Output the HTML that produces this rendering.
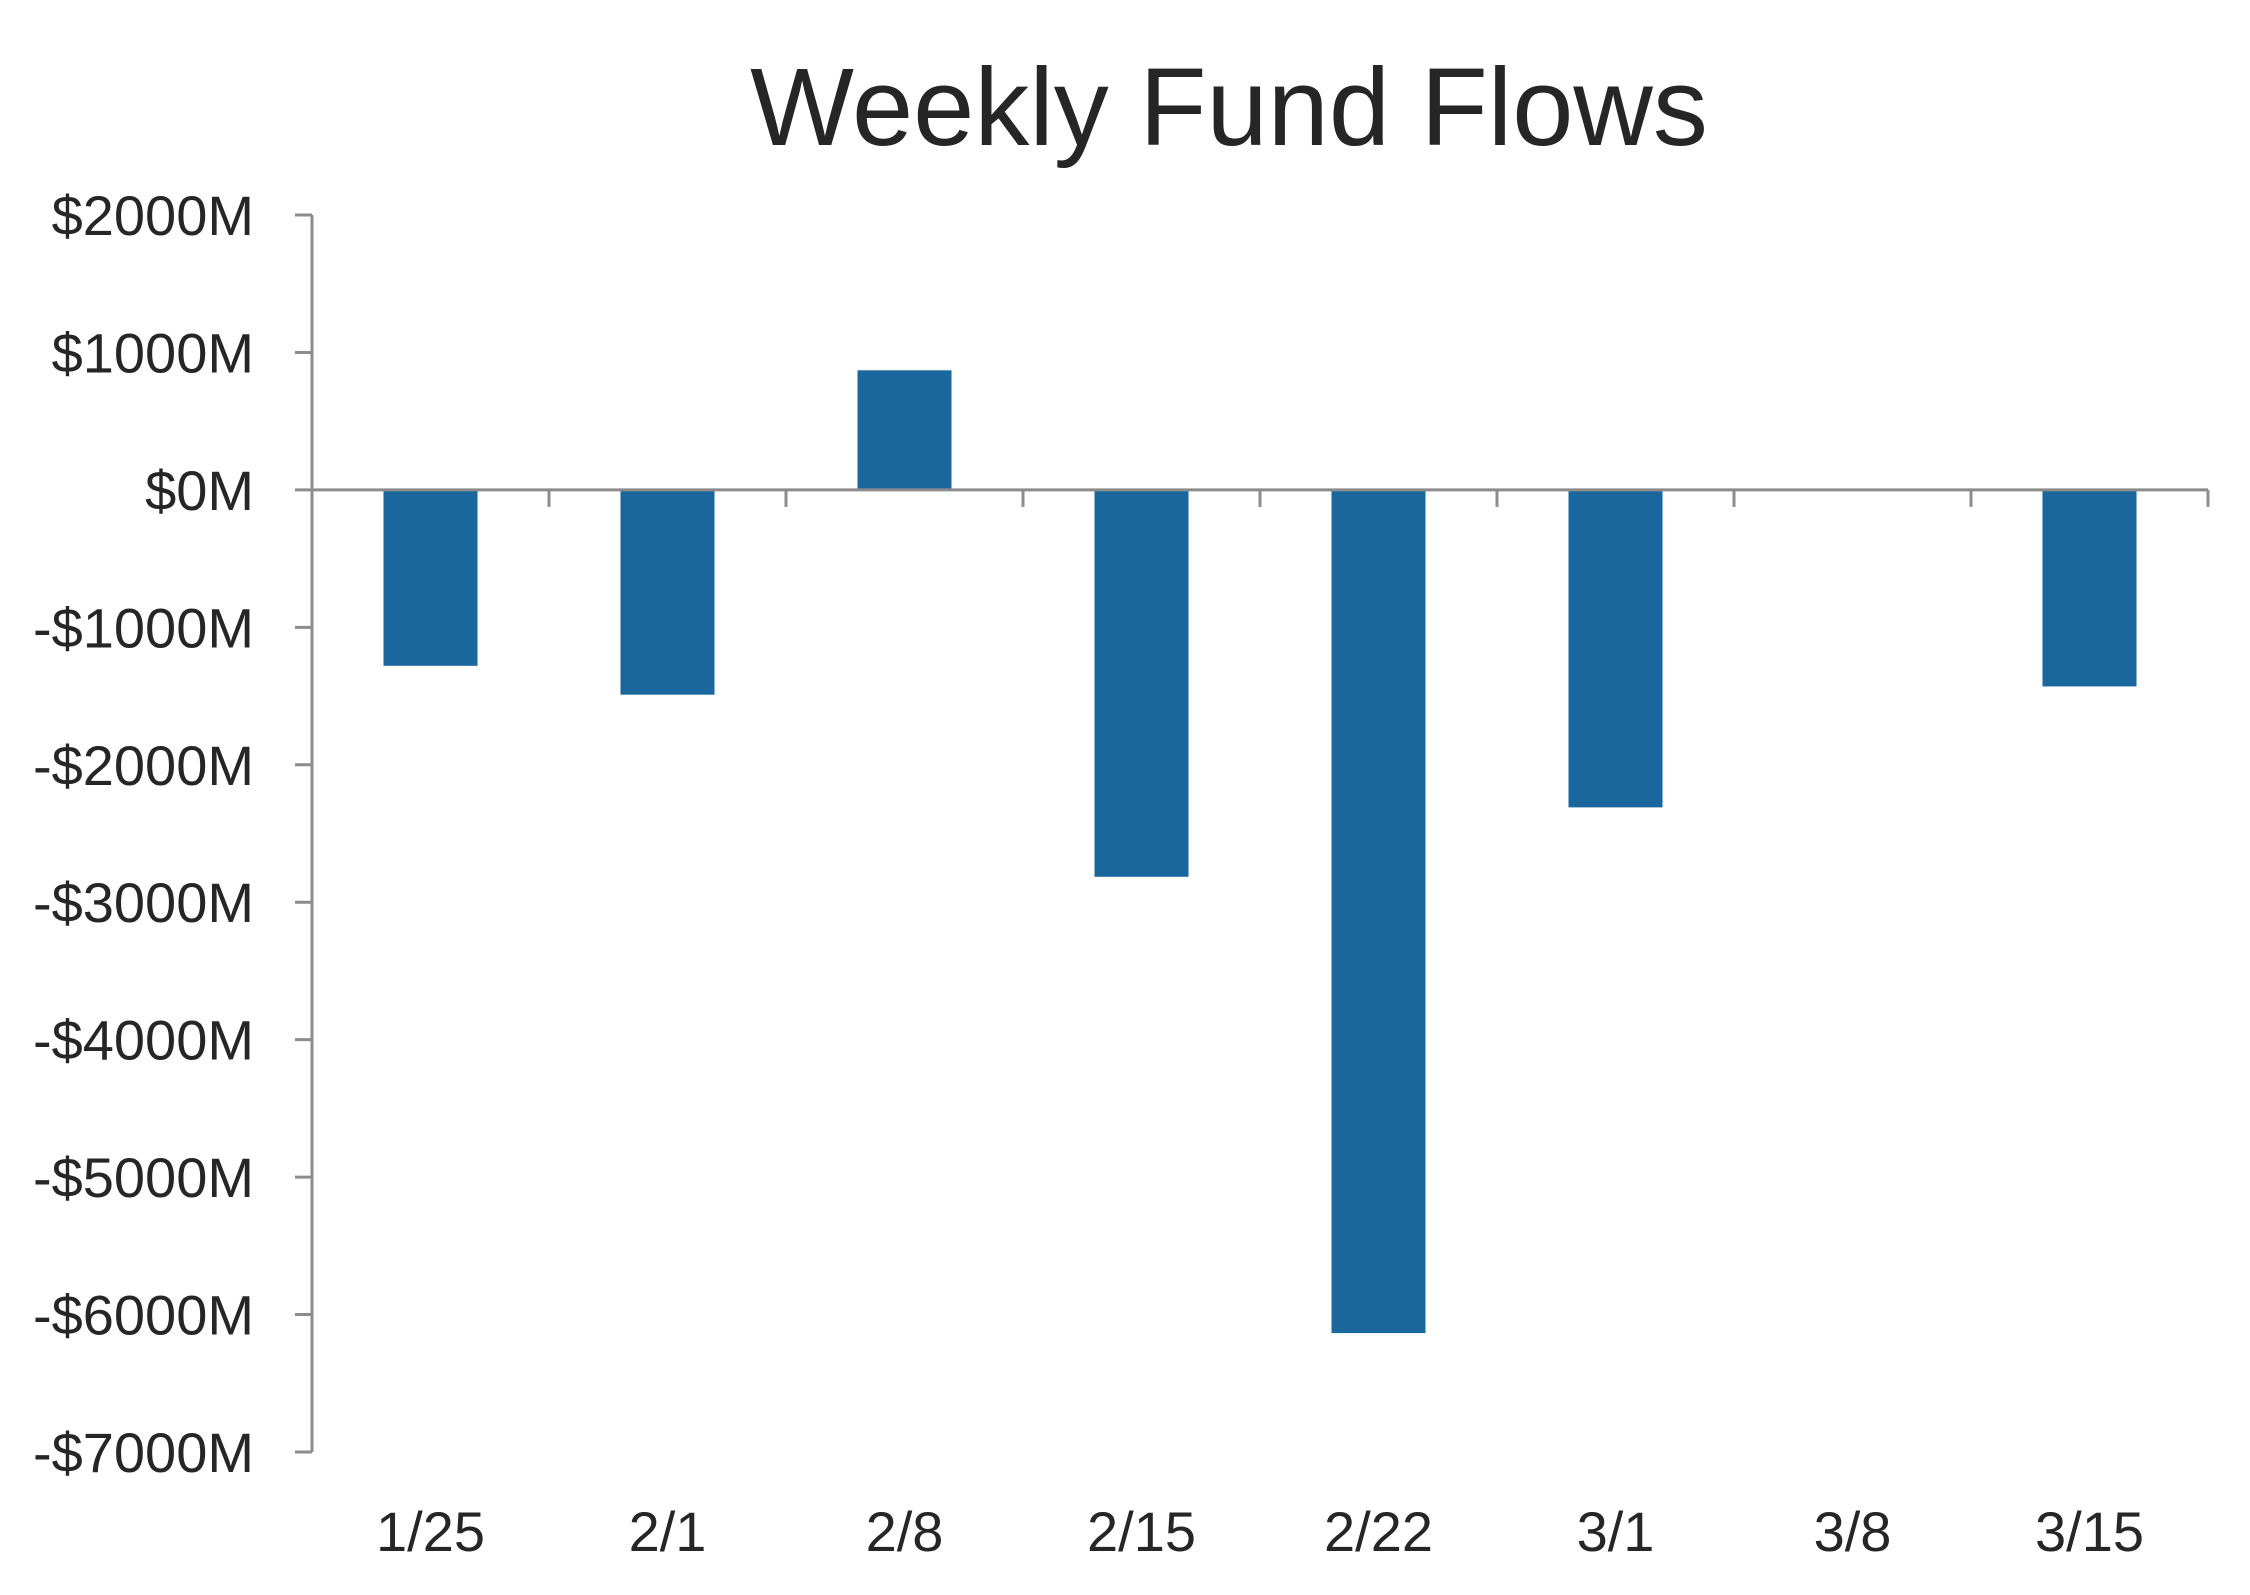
<!DOCTYPE html>
<html><head><meta charset="utf-8"><style>
html,body{margin:0;padding:0;background:#fff;width:2250px;height:1595px;overflow:hidden}
svg text{font-family:"Liberation Sans",sans-serif;fill:#262626}
</style></head><body>
<svg id="chart" width="2250" height="1595" viewBox="0 0 2250 1595" xmlns="http://www.w3.org/2000/svg">
<text x="1229" y="145" font-size="110" text-anchor="middle">Weekly Fund Flows</text>
<g id="yaxis"></g>
<g id="bars"></g>
<g id="xaxis"></g>
</svg>
<script>
const categories = ["1/25","2/1","2/8","2/15","2/22","3/1","3/8","3/15"];
const flows = [-1280,-1490,870,-2815,-6135,-2310,10,-1430];
const yTicks = [2000,1000,0,-1000,-2000,-3000,-4000,-5000,-6000,-7000];
const yTickLabels = ["$2000M","$1000M","$0M","-$1000M","-$2000M","-$3000M","-$4000M","-$5000M","-$6000M","-$7000M"];

const NS="http://www.w3.org/2000/svg";
const plotL=312, plotR=2208, yTop=215, yBot=1452, vMax=2000, vMin=-7000;
const y=v=>yTop+(vMax-v)/(vMax-vMin)*(yBot-yTop);
const band=(plotR-plotL)/categories.length;
const xc=i=>plotL+band*(i+0.5);
const barW=94;
function mk(tag,attrs,parent){const e=document.createElementNS(NS,tag);for(const k in attrs)e.setAttribute(k,attrs[k]);parent.appendChild(e);return e;}
const gy=document.getElementById('yaxis'),gb=document.getElementById('bars'),gx=document.getElementById('xaxis');
const axisCol="#8c8c8c";

const yl=mk('line',{x1:plotL,x2:plotL,y1:y(vMax),y2:y(vMin),stroke:axisCol,'stroke-width':3},gy);


yTicks.forEach((v,i)=>{
  const t=mk('line',{x1:plotL-17,x2:plotL,y1:y(v),y2:y(v),stroke:axisCol,'stroke-width':3},gy);
  
  
  const tx=mk('text',{x:254,y:y(v)+20,'font-size':56,'text-anchor':'end'},gy);
  tx.textContent=yTickLabels[i];
  
  
});

flows.forEach((v,i)=>{
  const top=Math.min(y(v),y(0)), h=Math.abs(y(v)-y(0));
  const r=mk('rect',{x:xc(i)-barW/2,y:top,width:barW,height:Math.max(h,1),fill:'#1a679e'},gb);
  
  
});

const xl=mk('line',{x1:plotL,x2:plotR,y1:y(0),y2:y(0),stroke:axisCol,'stroke-width':3},gx);


categories.forEach((c,i)=>{
  const t=mk('line',{x1:plotL+band*(i+1),x2:plotL+band*(i+1),y1:y(0),y2:y(0)+17,stroke:axisCol,'stroke-width':3},gx);
  
  
  const tx=mk('text',{x:xc(i),y:1551,'font-size':56,'text-anchor':'middle'},gx);
  tx.textContent=c;
  
  
});
</script>
</body></html>
